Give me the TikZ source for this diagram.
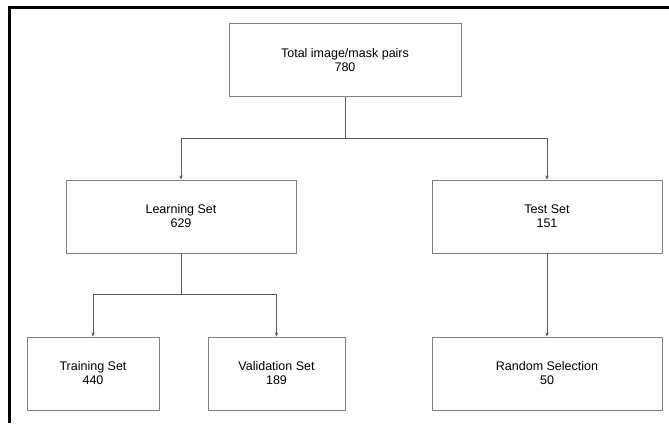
\documentclass[tikz,border=0pt]{standalone}
\usepackage{fontspec}
\setmainfont{Liberation Sans}
\usetikzlibrary{arrows.meta}

\tikzset{
  box/.style={draw=black!50, line width=0.9pt, minimum height=73pt, align=center,
    font=\fontsize{12.5}{14}\selectfont, inner sep=0pt},
  link/.style={draw=black!65, line width=0.9pt},
  tip/.style={link, -{Stealth[length=4pt,width=3.5pt]}}
}

\begin{document}
\begin{tikzpicture}[x=1pt,y=-1pt]

\useasboundingbox (0,0) rectangle (669,423);

\draw[line width=3pt] (9,423) -- (9,7) -- (669,7);

\node[box, minimum width=232pt] (total) at (345,60) {Total image/mask pairs\\780};

\node[box, minimum width=230pt] (learn) at (181,216.5) {Learning Set\\629};
\node[box, minimum width=230pt] (test) at (547,216.5) {Test Set\\151};

\node[box, minimum width=132pt] (train) at (93,373.5) {Training Set\\440};
\node[box, minimum width=137pt] (valid) at (276.5,373.5) {Validation Set\\189};
\node[box, minimum width=230pt] (random) at (547,373.5) {Random Selection\\50};

\coordinate (splitA) at (345,138);
\coordinate (splitB) at (181,294.5);

\draw[link] (total.south) -- (splitA);
\draw[tip] (splitA) -| (learn.north);
\draw[tip] (splitA) -| (test.north);

\draw[link] (learn.south) -- (splitB);
\draw[tip] (splitB) -| (train.north);
\draw[tip] (splitB) -| (valid.north);

\draw[tip] (test.south) -- (random.north);

\end{tikzpicture}
\end{document}
